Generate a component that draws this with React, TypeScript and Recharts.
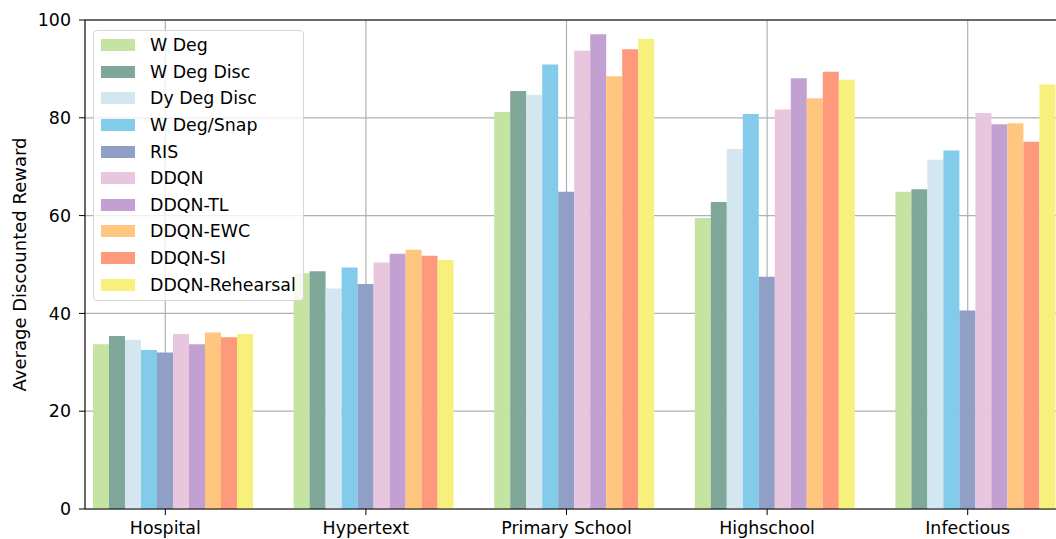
import { BarChart, Bar, XAxis, YAxis, CartesianGrid, Legend, ReferenceLine } from 'recharts';

const CATEGORIES = ['Hospital', 'Hypertext', 'Primary School', 'Highschool', 'Infectious'];

const W_DEG = [33.7, 48.2, 81.2, 59.5, 64.9];
const W_DEG_DISC = [35.4, 48.6, 85.5, 62.8, 65.4];
const DY_DEG_DISC = [34.6, 45.1, 84.7, 73.6, 71.4];
const W_DEG_SNAP = [32.5, 49.4, 90.9, 80.8, 73.3];
const RIS = [32.0, 46.0, 64.9, 47.5, 40.6];
const DDQN = [35.8, 50.4, 93.7, 81.7, 81.0];
const DDQN_TL = [33.7, 52.2, 97.1, 88.1, 78.7];
const DDQN_EWC = [36.1, 53.0, 88.5, 84.0, 78.9];
const DDQN_SI = [35.1, 51.8, 94.0, 89.4, 75.1];
const DDQN_REHEARSAL = [35.8, 50.9, 96.1, 87.8, 86.8];

const Y_TICKS = [0, 20, 40, 60, 80, 100];

const SERIES = [
  { key: 'wDeg', name: 'W Deg', values: W_DEG, color: '#c5e3a1' },
  { key: 'wDegDisc', name: 'W Deg Disc', values: W_DEG_DISC, color: '#7fa89b' },
  { key: 'dyDegDisc', name: 'Dy Deg Disc', values: DY_DEG_DISC, color: '#d4e7f0' },
  { key: 'wDegSnap', name: 'W Deg/Snap', values: W_DEG_SNAP, color: '#82cbea' },
  { key: 'ris', name: 'RIS', values: RIS, color: '#8f9fc5' },
  { key: 'ddqn', name: 'DDQN', values: DDQN, color: '#e7c6de' },
  { key: 'ddqnTl', name: 'DDQN-TL', values: DDQN_TL, color: '#c2a1d2' },
  { key: 'ddqnEwc', name: 'DDQN-EWC', values: DDQN_EWC, color: '#fec67f' },
  { key: 'ddqnSi', name: 'DDQN-SI', values: DDQN_SI, color: '#fe997b' },
  { key: 'ddqnReh', name: 'DDQN-Rehearsal', values: DDQN_REHEARSAL, color: '#f8f07c' },
];

const data = CATEGORIES.map((category, i) => {
  const row: Record<string, string | number> = { category };
  SERIES.forEach(s => { row[s.key] = s.values[i]; });
  return row;
});

const FONT = '"DejaVu Sans", sans-serif';
const TEXT_SIZE = 17.4;

function LegendBox() {
  return (
    <div
      style={{
        background: 'rgba(255,255,255,0.8)',
        border: '1px solid #d6d6d6',
        borderRadius: 4,
        padding: '1px 7px 2px 7px',
        fontFamily: FONT,
        fontSize: TEXT_SIZE,
        color: '#000',
      }}
    >
      {SERIES.map(s => (
        <div key={s.key} style={{ display: 'flex', alignItems: 'center', height: 26.6, whiteSpace: 'nowrap' }}>
          <span style={{ width: 34, height: 12, background: s.color, marginRight: 15, display: 'inline-block' }} />
          <span>{s.name}</span>
        </div>
      ))}
    </div>
  );
}

export default function App() {
  return (
    <div style={{ position: 'absolute', left: 0, top: 0, width: 1056, height: 539, overflow: 'hidden', background: '#fff', fontFamily: FONT }}>
      <BarChart
        width={1070}
        height={539}
        data={data}
        margin={{ top: 20, right: 2, left: 0, bottom: 0 }}
        barGap={0}
      >
        <XAxis
          dataKey="category"
          padding={{ left: -20, right: 0 }}
          height={30}
          tickSize={6}
          tickMargin={7}
          tick={{ fill: '#000', fontSize: TEXT_SIZE }}
          stroke="#000"
          interval={0}
        />
        <YAxis
          domain={[0, 100]}
          ticks={Y_TICKS}
          width={85}
          tickSize={6}
          tickMargin={8}
          tick={{ fill: '#000', fontSize: TEXT_SIZE }}
          stroke="#000"
          label={{
            value: 'Average Discounted Reward',
            angle: -90,
            position: 'insideLeft',
            offset: 20,
            fill: '#000',
            fontSize: 18,
            style: { textAnchor: 'middle' },
          }}
        />
        {/* empty spacer slot so the tick sits on the RIS bar, as in the original */}
        <Bar dataKey="spacer" barSize={16} legendType="none" isAnimationActive={false} />
        {SERIES.map(s => (
          <Bar key={s.key} dataKey={s.key} name={s.name} fill={s.color} barSize={16} isAnimationActive={false} />
        ))}
        <CartesianGrid stroke="#b0b0b0" strokeWidth={1.2} />
        <ReferenceLine y={100} stroke="#000" strokeWidth={1.2} />
        <Legend
          layout="vertical"
          align="center"
          verticalAlign="middle"
          wrapperStyle={{ left: 93, top: 30, width: 'auto' }}
          content={() => <LegendBox />}
        />
      </BarChart>
    </div>
  );
}
